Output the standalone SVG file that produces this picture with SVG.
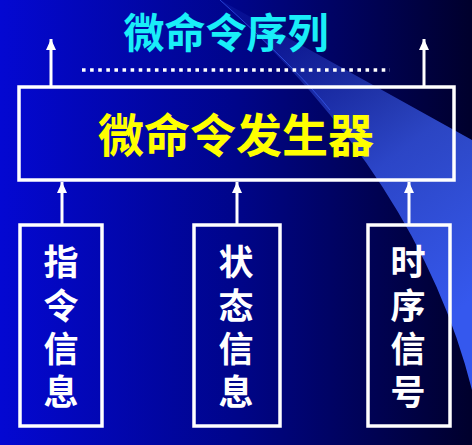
<svg xmlns="http://www.w3.org/2000/svg" width="472" height="445" viewBox="0 0 472 445">
<defs>
<linearGradient id="bg" x1="0" y1="0" x2="1" y2="0">
<stop offset="0" stop-color="#0408D2"/>
<stop offset="0.5" stop-color="#00058A"/>
<stop offset="1" stop-color="#00002C"/>
</linearGradient>
<linearGradient id="sw" gradientUnits="userSpaceOnUse" x1="250" y1="20" x2="472" y2="300">
<stop offset="0" stop-color="#3A5CF0" stop-opacity="0.12"/>
<stop offset="0.55" stop-color="#3A5CF0" stop-opacity="0.75"/>
<stop offset="1" stop-color="#3558EE" stop-opacity="1"/>
</linearGradient>
<marker id="ah" markerUnits="userSpaceOnUse" markerWidth="11" markerHeight="10" viewBox="0 0 11 10" refX="11" refY="5" orient="auto">
<path d="M0,0 L11,5 L0,10 Z" fill="#FFFFFF"/>
</marker>
<style>
.box{fill:none;stroke:#FFFFFF;stroke-width:3.5}
.conn{stroke:#FFFFFF;stroke-width:3;fill:none;marker-end:url(#ah)}
.cjk{font-family:"Noto Sans CJK SC","Noto Sans CJK TC",sans-serif;font-weight:bold;text-anchor:middle}
.side{fill:#FFFFFF;font-size:35px}
</style>
</defs>
<rect x="0" y="0" width="472" height="445" fill="url(#bg)"/>
<path d="M220,0 L472,140 L472,390 Q419,179 220,0 Z" fill="url(#sw)"/>
<path d="M220,0 Q300,72 330,110" fill="none" stroke="#3F66FF" stroke-width="1" stroke-opacity="0.6"/>

<text class="cjk" x="226" y="47.5" font-size="41" fill="#19EEF8">微命令序列</text>
<line x1="82" y1="70" x2="390" y2="70" stroke="#FFFFFF" stroke-width="3.5" stroke-dasharray="3.6 4.5"/>

<g id="connectors">
<line class="conn" x1="51" y1="86" x2="51" y2="39"/>
<line class="conn" x1="424" y1="86" x2="424" y2="39"/>
<line class="conn" x1="62" y1="224" x2="62" y2="182"/>
<line class="conn" x1="237" y1="224" x2="237" y2="182"/>
<line class="conn" x1="409" y1="224" x2="409" y2="182"/>
</g>

<g id="generator">
<rect class="box" x="19" y="87" width="435" height="93"/>
<text class="cjk" x="236" y="152" font-size="46" fill="#FFFF00">微命令发生器</text>
</g>

<g id="instr">
<rect class="box" x="20" y="225" width="82" height="201"/>
<text class="cjk side" x="61" y="275">指</text>
<text class="cjk side" x="61" y="318.5">令</text>
<text class="cjk side" x="61" y="362">信</text>
<text class="cjk side" x="61" y="405">息</text>
</g>

<g id="state">
<rect class="box" x="194" y="225" width="86" height="201"/>
<text class="cjk side" x="236" y="275">状</text>
<text class="cjk side" x="236" y="318.5">态</text>
<text class="cjk side" x="236" y="362">信</text>
<text class="cjk side" x="236" y="405">息</text>
</g>

<g id="timing">
<rect class="box" x="368" y="225" width="82" height="201"/>
<text class="cjk side" x="408" y="275">时</text>
<text class="cjk side" x="408" y="318.5">序</text>
<text class="cjk side" x="408" y="362">信</text>
<text class="cjk side" x="408" y="405">号</text>
</g>
</svg>
